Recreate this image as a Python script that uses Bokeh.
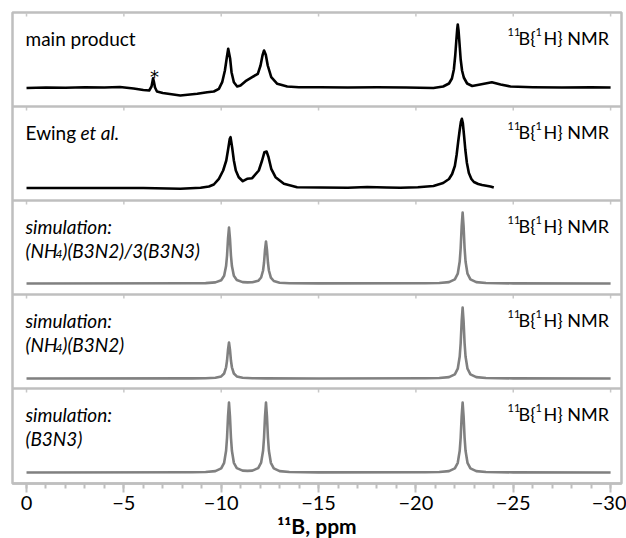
from bokeh.plotting import figure
from bokeh.models import Range1d, FixedTicker, Label, Span, CustomJSTickFormatter
from bokeh.embed import file_html
from bokeh.resources import INLINE

# ---------------- data (ppm, intensity in arbitrary units above baseline) ----------------
main_ppm = [0.0, -1.0, -2.0, -3.0, -4.0, -4.8, -5.5, -6.0, -6.3, -6.42, -6.47, -6.5, -6.54,
            -6.6, -6.7, -7.0, -7.9, -8.77, -9.28, -9.62, -9.88, -10.05, -10.19, -10.29, -10.36,
            -10.46, -10.53, -10.65, -10.82, -10.99, -11.25, -11.59, -11.88, -12.02, -12.12,
            -12.2, -12.29, -12.39, -12.57, -12.88, -13.39, -13.99, -15.1, -16.5, -18.0, -19.5,
            -20.9, -21.4, -21.7, -21.85, -21.95, -22.02, -22.08, -22.12, -22.15, -22.19, -22.24,
            -22.3, -22.37, -22.46, -22.63, -22.89, -23.3, -23.9, -24.35, -24.86, -26.0, -27.5,
            -29.0, -30.0]
main_int = [-0.5, 0.0, -0.3, 0.3, 0.0, 0.5, -1.0, -2.5, -3.0, 1.0, 6.0, 9.3, 6.0,
            0.0, -4.0, -5.5, -8.0, -6.3, -4.7, -4.0, -1.3, 5.3, 17.0, 30.3, 38.7,
            28.7, 15.3, 5.3, 1.0, 2.0, 6.3, 10.3, 13.7, 22.0, 32.0,
            37.0, 32.7, 22.0, 10.3, 3.7, 1.0, 0.3, 0.3, 0.0, 0.3, 0.0,
            -0.5, 1.0, 4.0, 9.0, 18.0, 32.0, 48.0, 58.0, 63.0, 57.0, 44.0,
            28.0, 17.0, 10.0, 4.0, 1.5, 3.0, 5.3, 3.0, 1.0, 0.3, 0.0,
            0.3, 0.0]

ewing_ppm = [0.0, -2.0, -4.0, -6.0, -7.9, -8.94, -9.37, -9.62, -9.88, -10.1, -10.26, -10.36,
             -10.44, -10.48, -10.56, -10.65, -10.75, -10.9, -11.11, -11.33, -11.59, -11.93,
             -12.1, -12.22, -12.33, -12.43, -12.57, -12.79, -13.22, -13.9, -15.1, -16.5, -17.5,
             -18.5, -19.2, -20.1, -20.9, -21.4, -21.7, -21.86, -22.0, -22.09, -22.17, -22.25,
             -22.31, -22.36, -22.41, -22.47, -22.54, -22.62, -22.72, -22.85, -22.98, -23.2,
             -23.4, -23.83, -24.0]
ewing_int = [0.0, 0.0, 0.0, 0.0, -0.8, 0.2, 1.5, 3.5, 9.2, 17.5, 27.5, 39.2,
             49.2, 50.8, 40.8, 27.5, 17.5, 10.8, 6.8, 9.2, 9.8, 17.5,
             27.5, 35.8, 36.5, 30.8, 19.2, 10.8, 4.2, 0.8, 0.5, 0.3, 1.0,
             0.5, 0.3, 0.8, 2.0, 5.0, 9.0, 14.0, 22.0, 33.0, 46.0, 58.0,
             66.0, 69.2, 65.0, 53.0, 38.0, 25.0, 15.0, 9.0, 6.0, 4.0,
             3.0, 1.5, 0.5]

simA_ppm = [0.0, -8.5, -9.2, -9.7, -10.0, -10.15, -10.25, -10.3, -10.35, -10.4, -10.45, -10.5,
            -10.55, -10.65, -10.8, -11.1, -11.35, -11.6, -11.9, -12.05, -12.15, -12.2, -12.25,
            -12.3, -12.35, -12.4, -12.45, -12.55, -12.7, -13.0, -13.5, -15.0, -20.5, -21.2,
            -21.7, -22.0, -22.15, -22.25, -22.3, -22.35, -22.4, -22.45, -22.5, -22.55, -22.65,
            -22.8, -23.1, -23.6, -25.0, -30.0]
simA_int = [0.0, 0.2, 0.4, 1.1, 3.3, 7.7, 17.4, 28.0, 44.8, 56.0, 44.8, 28.0,
            17.4, 7.7, 3.5, 1.4, 1.1, 1.2, 2.7, 6.0, 13.0, 21.0, 33.6,
            42.0, 33.6, 21.0, 13.0, 5.8, 2.5, 0.8, 0.3, 0.1, 0.2, 0.5,
            1.4, 4.2, 9.8, 22.0, 35.5, 56.8, 71.0, 56.8, 35.5, 22.0, 9.8,
            4.2, 1.4, 0.5, 0.1, 0.0]

simB_ppm = [0.0, -8.5, -9.2, -9.7, -10.0, -10.15, -10.25, -10.3, -10.35, -10.4, -10.45, -10.5,
            -10.55, -10.65, -10.8, -11.1, -11.6, -12.3, -15.0, -20.5, -21.2, -21.7, -22.0,
            -22.15, -22.25, -22.3, -22.35, -22.4, -22.45, -22.5, -22.55, -22.65, -22.8, -23.1,
            -23.6, -25.0, -30.0]
simB_int = [0.0, 0.1, 0.25, 0.7, 2.1, 5.0, 11.2, 18.0, 28.8, 36.0, 28.8, 18.0,
            11.2, 5.0, 2.1, 0.7, 0.25, 0.1, 0.0, 0.2, 0.5, 1.4, 4.2,
            9.8, 22.0, 35.5, 56.8, 71.0, 56.8, 35.5, 22.0, 9.8, 4.2, 1.4,
            0.5, 0.1, 0.0]

simC_ppm = [0.0, -8.5, -9.2, -9.7, -10.0, -10.15, -10.25, -10.3, -10.35, -10.4, -10.45, -10.5,
            -10.55, -10.65, -10.8, -11.1, -11.35, -11.6, -11.9, -12.05, -12.15, -12.2, -12.25,
            -12.3, -12.35, -12.4, -12.45, -12.55, -12.7, -13.0, -13.5, -15.0, -20.5, -21.2,
            -21.7, -22.0, -22.15, -22.25, -22.3, -22.35, -22.4, -22.45, -22.5, -22.55, -22.65,
            -22.8, -23.1, -23.6, -25.0, -30.0]
simC_int = [0.0, 0.2, 0.5, 1.4, 4.1, 9.7, 21.7, 35.0, 56.0, 70.0, 56.0, 35.0,
            21.7, 9.7, 4.4, 1.9, 1.6, 1.9, 4.4, 9.9, 21.7, 35.0, 56.0,
            70.0, 56.0, 35.0, 21.7, 9.7, 4.1, 1.4, 0.5, 0.1, 0.2, 0.5,
            1.4, 4.1, 9.7, 21.7, 35.0, 56.0, 70.0, 56.0, 35.0, 21.7, 9.7,
            4.1, 1.4, 0.5, 0.1, 0.0]

major_ticks = [0, -5, -10, -15, -20, -25, -30]
minor_ticks = list(range(0, -31, -1))
x_title = "\u00b9\u00b9B, ppm"

traces = [(main_ppm, main_int, "black"), (ewing_ppm, ewing_int, "black"),
          (simA_ppm, simA_int, "#808080"), (simB_ppm, simB_int, "#808080"),
          (simC_ppm, simC_int, "#808080")]

# ---------------- layout ----------------
FONT = "Lato"
TOP, BOTTOM = 12, 483
panel_tops = [12, 106, 200, 294, 388]
baselines = [87, 187.5, 283, 378, 472]
GRAY = "#bfbfbf"

p = figure(frame_width=609, frame_height=471, min_border_left=12, min_border_right=5,
           min_border_top=TOP, min_border_bottom=0,
           x_range=Range1d(0.72, -30.56), y_range=Range1d(BOTTOM, TOP),
           y_axis_location=None, output_backend="svg", toolbar_location=None,
           background_fill_color="white", border_fill_color="white")
p.grid.visible = False
p.outline_line_color = GRAY
p.outline_line_width = 2.5
p.extra_x_ranges = {"px": Range1d(12, 621)}

for k, (xs, ys, col) in enumerate(traces):
    name = "s%d" % k
    b = baselines[k]
    p.extra_y_ranges[name] = Range1d(b - BOTTOM, b - TOP)
    p.line(xs, ys, y_range_name=name, line_color=col, line_width=2.6, line_join="round")

for t in panel_tops[1:]:
    p.add_layout(Span(location=t, dimension="width", line_color=GRAY, line_width=2.5))

# small inner tick marks at the top of each panel
for t in panel_tops:
    p.segment(x0=major_ticks, x1=major_ticks, y0=[t] * 7, y1=[t + 4] * 7,
              line_color="#c8c8c8", line_width=1.5)


def txt(x, y, s, size="19px", style="normal", align="left", font=FONT):
    p.add_layout(Label(x=x, y=y, x_range_name="px", text=s, text_font=font,
                       text_font_size=size, text_font_style=style, text_color="black",
                       text_align=align, text_baseline="alphabetic"))


for k, t in enumerate(panel_tops):
    b1 = t + 25.5
    b2 = t + 49.5
    if k == 0:
        txt(25, b1, "main product")
    elif k == 1:
        txt(25, b1, "Ewing")
        txt(80, b1, "et al.", style="italic")
    else:
        txt(25, b1, "simulation:", style="italic")
        if k == 2:
            txt(25, b2, "(NH", style="italic")
            txt(55, b2 + 4, "4", size="12px", style="italic")
            txt(62, b2, ")(B3N2)/3(B3N3)", style="italic")
        elif k == 3:
            txt(25, b2, "(NH", style="italic")
            txt(55, b2 + 4, "4", size="12px", style="italic")
            txt(62, b2, ")(B3N2)", style="italic")
        else:
            txt(25, b2, "(B3N3)", style="italic")
    # 11B{1H} NMR
    txt(507, t + 19, "11", size="11px")
    txt(518, b1, "B{", size="18px")
    txt(535, t + 19, "1", size="11px")
    txt(543, b1, "H} NMR", size="18px")

txt(154, 76, "*", size="18px", align="center", font="DejaVu Sans")

ax = p.xaxis[0]
ax.ticker = FixedTicker(ticks=major_ticks, minor_ticks=minor_ticks)
ax.formatter = CustomJSTickFormatter(code="return tick == 0 ? '0' : '\\u2212' + Math.abs(tick);")
ax.axis_line_color = GRAY
ax.axis_line_width = 2.5
ax.major_tick_in = 0
ax.major_tick_out = 9
ax.minor_tick_in = 0
ax.minor_tick_out = 5
ax.major_tick_line_color = GRAY
ax.major_tick_line_width = 2
ax.minor_tick_line_color = GRAY
ax.minor_tick_line_width = 2
ax.major_label_text_font = FONT
ax.major_label_text_font_size = "20px"
ax.major_label_text_color = "black"
ax.major_label_standoff = 3
ax.axis_label = x_title
ax.axis_label_text_font = FONT
ax.axis_label_text_font_size = "21px"
ax.axis_label_text_font_style = "bold"
ax.axis_label_text_color = "black"
ax.axis_label_standoff = 0

open("out.html", "w").write(file_html(p, INLINE))
